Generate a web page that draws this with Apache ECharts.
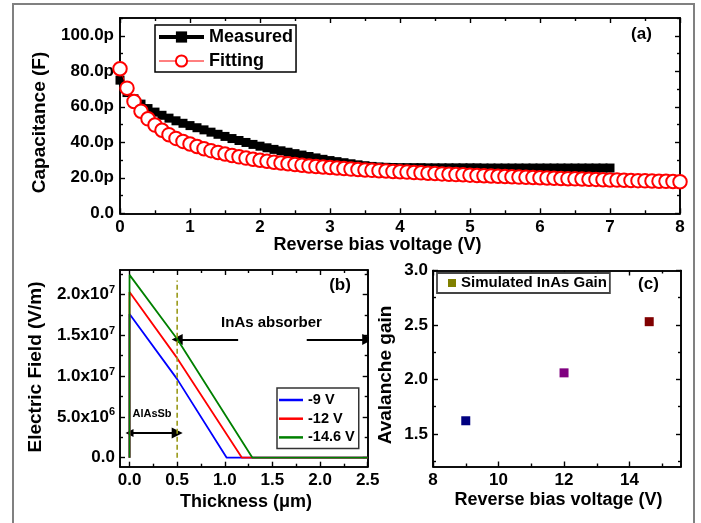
<!DOCTYPE html>
<html><head><meta charset="utf-8">
<script src="https://cdn.jsdelivr.net/npm/echarts@6/dist/echarts.min.js"></script>
<style>html,body{margin:0;padding:0;background:#fff}#c{width:701px;height:523px}</style>
</head><body><div id="c"></div>
<script>
// ---------- Panel (a): capacitance vs reverse bias ----------
const measuredV = [0,0.1,0.2,0.3,0.4,0.5,0.6,0.7,0.8,0.9,1.0,1.1,1.2,1.3,1.4,1.5,1.6,1.7,1.8,1.9,2.0,2.1,2.2,2.3,2.4,2.5,2.6,2.7,2.8,2.9,3.0,3.1,3.2,3.3,3.4,3.5,3.6,3.7,3.8,3.9,4.0,4.1,4.2,4.3,4.4,4.5,4.6,4.7,4.8,4.9,5.0,5.1,5.2,5.3,5.4,5.5,5.6,5.7,5.8,5.9,6.0,6.1,6.2,6.3,6.4,6.5,6.6,6.7,6.8,6.9,7.0];
const measuredC = [75,68,64.5,61.5,59,57,55.2,53.6,52.1,50.7,49.4,48.2,47.0,45.7,44.5,43.3,42.1,41.0,39.9,38.8,37.8,36.9,36.0,35.2,34.4,33.6,32.8,32.0,31.2,30.4,29.7,29.1,28.5,27.9,27.3,26.8,26.4,26.1,25.9,25.8,25.7,25.7,25.7,25.7,25.6,25.6,25.6,25.6,25.6,25.6,25.6,25.6,25.5,25.5,25.5,25.5,25.5,25.5,25.5,25.5,25.5,25.5,25.5,25.5,25.5,25.5,25.5,25.5,25.5,25.5,25.5];
const fittingV = [0,0.1,0.2,0.3,0.4,0.5,0.6,0.7,0.8,0.9,1.0,1.1,1.2,1.3,1.4,1.5,1.6,1.7,1.8,1.9,2.0,2.1,2.2,2.3,2.4,2.5,2.6,2.7,2.8,2.9,3.0,3.1,3.2,3.3,3.4,3.5,3.6,3.7,3.8,3.9,4.0,4.1,4.2,4.3,4.4,4.5,4.6,4.7,4.8,4.9,5.0,5.1,5.2,5.3,5.4,5.5,5.6,5.7,5.8,5.9,6.0,6.1,6.2,6.3,6.4,6.5,6.6,6.7,6.8,6.9,7.0,7.1,7.2,7.3,7.4,7.5,7.6,7.7,7.8,7.9,8.0];
const fittingC = [81.4,70.5,63.0,57.5,53.2,49.7,46.8,44.3,42.2,40.5,39.0,37.6,36.4,35.3,34.3,33.4,32.6,31.8,31.1,30.5,29.9,29.3,28.8,28.3,27.9,27.5,27.1,26.7,26.4,26.1,25.8,25.5,25.2,24.9,24.7,24.4,24.2,24.0,23.8,23.6,23.4,23.2,23.0,22.8,22.6,22.4,22.2,22.0,21.8,21.7,21.5,21.3,21.2,21.0,20.9,20.7,20.6,20.4,20.3,20.2,20.0,19.9,19.8,19.6,19.5,19.4,19.3,19.2,19.1,18.9,18.8,18.7,18.6,18.5,18.4,18.3,18.2,18.1,18.0,17.9,17.8];
const aXTicks = [0,1,2,3,4,5,6,7,8];
const aXMinor = [0.5,1.5,2.5,3.5,4.5,5.5,6.5,7.5];
const aYTicks = [0,20,40,60,80,100];
const aYMinor = [10,30,50,70,90,110];

// ---------- Panel (b): electric field vs thickness ----------
const fieldNames = ['-9 V','-12 V','-14.6 V'];
const fieldX = [
  [0,0,0.5,1.02,2.5],
  [0,0,0.5,1.18,2.5],
  [0,0,0.5,1.29,2.5]
];
const fieldY = [
  [0,1.76e7,0.963e7,0,0],
  [0,2.03e7,1.22e7,0,0],
  [0,2.24e7,1.455e7,0,0]
];
const bXTicks = [0,0.5,1.0,1.5,2.0,2.5];
const bXMinor = [0.25,0.75,1.25,1.75,2.25];
const bYTicks = [0,5e6,1e7,1.5e7,2e7];
const bYMinor = [2.5e6,7.5e6,1.25e7,1.75e7,2.25e7];
const interfaceX = [0.5,0.5];
const interfaceY = [0,2.17e7];
const absorberArrowL = [[1.14,1.45e7],[0.5,1.45e7]];
const absorberArrowR = [[1.86,1.45e7],[2.5,1.45e7]];
const alasArrow = [[0.0,3.03e6],[0.5,3.03e6]];

// ---------- Panel (c): avalanche gain ----------
const gainV = [9,12,14.6];
const gainM = [1.62,2.06,2.53];
const cXTicks = [8,10,12,14];
const cXMinor = [9,11,13,15];
const cYTicks = [1.5,2.0,2.5,3.0];
const cYMinor = [1.25,1.75,2.25,2.75];

// ---------- styles ----------
const FF = '"Liberation Sans", Arial, sans-serif';
const fieldColors = ['#0000ff','#ff0000','#008000'];
const gainColors = ['#000080','#800080','#800000'];

const xAxes = [], yAxes = [];
function addAxes(list, isX, grid, min, max, majors, minors, fmt, margin, rich) {
  const posMain = isX ? 'bottom' : 'left', posOpp = isX ? 'top' : 'right';
  const mk = (pos, ticks, len, withLabel) => ({
    type: 'value', gridIndex: grid, min: min, max: max, position: pos,
    axisLine: {show: true, onZero: false, lineStyle: {color: '#000', width: 1.6}},
    axisTick: {show: true, inside: true, length: len, customValues: ticks, lineStyle: {color: '#000', width: 1.4}},
    axisLabel: withLabel ? {show: true, customValues: ticks, formatter: fmt, margin: margin,
      color: '#000', fontWeight: 'bold', fontSize: 17, fontFamily: FF, rich: rich || {}} : {show: false},
    splitLine: {show: false}, minorTick: {show: false}
  });
  const idx = list.length;
  list.push(mk(posMain, majors, 5, true));
  list.push(mk(posMain, minors, 3, false));
  list.push(mk(posOpp, majors, 5, false));
  list.push(mk(posOpp, minors, 3, false));
  return idx;
}
const supRich = {s: {fontSize: 11, fontWeight: 'bold', fontFamily: FF, color: '#000', padding: [0, 0, 9, 0]}};
const ax = addAxes(xAxes, true, 0, 0, 8, aXTicks, aXMinor, v => String(v), 6);
const ay = addAxes(yAxes, false, 0, 0, 110, aYTicks, aYMinor, v => v === 0 ? '0.0' : v.toFixed(1) + 'p', 6);
const bx = addAxes(xAxes, true, 1, -0.1, 2.5, bXTicks, bXMinor, v => v.toFixed(1), 5);
const by = addAxes(yAxes, false, 1, -1.1e6, 2.3e7, bYTicks, bYMinor, v => {
  if (v === 0) return '0.0';
  const e = Math.floor(Math.log10(v) + 1e-9);
  return (v / Math.pow(10, e)).toFixed(1) + 'x10{s|' + e + '}';
}, 5, supRich);
const cx = addAxes(xAxes, true, 2, 8, 15.57, cXTicks, cXMinor, v => String(v), 5);
const cy = addAxes(yAxes, false, 2, 1.2, 3.0, cYTicks, cYMinor, v => v.toFixed(1), 5);

const zip = (xs, ys) => xs.map((x, i) => [x, ys[i]]);
const series = [];
series.push({name: 'Measured', type: 'line', xAxisIndex: ax, yAxisIndex: ay,
  data: zip(measuredV, measuredC), symbol: 'rect', symbolSize: 9,
  lineStyle: {color: '#000', width: 4}, itemStyle: {color: '#000'}, z: 2});
series.push({name: 'Fitting', type: 'line', xAxisIndex: ax, yAxisIndex: ay,
  data: zip(fittingV, fittingC), symbol: 'emptyCircle', symbolSize: 13.5,
  lineStyle: {color: '#ff0000', width: 1}, itemStyle: {color: '#ff0000', borderWidth: 1}, z: 3});
fieldNames.forEach((n, i) => series.push({name: n, type: 'line', xAxisIndex: bx, yAxisIndex: by,
  data: zip(fieldX[i], fieldY[i]), symbol: 'none', lineStyle: {color: fieldColors[i], width: 1.8},
  itemStyle: {color: fieldColors[i]}}));
series.push({type: 'line', xAxisIndex: bx, yAxisIndex: by, data: zip(interfaceX, interfaceY), symbol: 'none',
  lineStyle: {color: '#9a9a1a', width: 1.6, type: [5, 3]}, silent: true});
series.push({type: 'lines', coordinateSystem: 'cartesian2d', xAxisIndex: bx, yAxisIndex: by,
  data: [{coords: absorberArrowL}, {coords: absorberArrowR}], symbol: ['none', 'triangle'], symbolSize: [8, 11],
  lineStyle: {color: '#000', width: 2, opacity: 1}, itemStyle: {color: '#000'}, silent: true});
series.push({type: 'lines', coordinateSystem: 'cartesian2d', xAxisIndex: bx, yAxisIndex: by,
  data: [{coords: alasArrow}], symbol: ['triangle', 'triangle'], symbolSize: [8, 11],
  lineStyle: {color: '#000', width: 2, opacity: 1}, itemStyle: {color: '#000'}, silent: true});
series.push({name: 'Simulated InAs Gain', type: 'scatter', xAxisIndex: cx, yAxisIndex: cy,
  data: gainV.map((v, i) => ({value: [v, gainM[i]], itemStyle: {color: gainColors[i], opacity: 1}})),
  symbol: 'rect', symbolSize: 9, itemStyle: {color: '#808000', opacity: 1}});

const T = (text, x, y, size, extra) => Object.assign({type: 'text', x: x, y: y, z: 100,
  style: {text: text, font: 'bold ' + size + 'px ' + FF, fill: '#000', textAlign: 'center', textVerticalAlign: 'middle'}}, extra || {});

const option = {
  animation: false,
  backgroundColor: '#fff',
  grid: [
    {left: 120, top: 18, width: 560, height: 195.3},
    {left: 120, top: 270, width: 247.7, height: 196.7},
    {left: 433, top: 270.5, width: 248, height: 196}
  ],
  xAxis: xAxes, yAxis: yAxes, series: series,
  legend: [
    {data: [{name: 'Measured', lineStyle: {width: 4}}, {name: 'Fitting', lineStyle: {width: 1}}],
     orient: 'vertical', left: 155, top: 25, itemWidth: 45, itemHeight: 14,
     itemGap: 4, padding: [2, 3, 1, 2], borderColor: '#000', borderWidth: 1.5, backgroundColor: '#fff',
     textStyle: {fontWeight: 'bold', fontSize: 18, fontFamily: FF, color: '#000', lineHeight: 20}},
    {data: fieldNames, icon: 'rect', orient: 'vertical', left: 277, top: 388, itemWidth: 24, itemHeight: 2.5,
     itemGap: 2.7, padding: [4, 4, 3, 2], borderColor: '#333', borderWidth: 1.5, backgroundColor: '#fff',
     textStyle: {fontWeight: 'bold', fontSize: 14.5, fontFamily: FF, color: '#000', lineHeight: 16}},
    {data: ['Simulated InAs Gain'], orient: 'vertical', left: 437, top: 273, itemWidth: 8, itemHeight: 8,
     padding: [2, 3, 2, 11], borderColor: '#444', borderWidth: 1.8, backgroundColor: '#fff',
     textStyle: {fontWeight: 'bold', fontSize: 15, fontFamily: FF, color: '#000', lineHeight: 16}}
  ],
  graphic: [
    {type: 'rect', shape: {x: 13, y: 4, width: 681, height: 540}, style: {fill: 'none', stroke: '#808080', lineWidth: 2}, z: 0, silent: true},
    T('Reverse bias voltage (V)', 377.5, 245, 18),
    T('Capacitance (F)', 40, 122.5, 19, {rotation: Math.PI / 2}),
    T('(a)', 641.5, 34, 17),
    T('Electric Field (V/m)', 36, 367, 19, {rotation: Math.PI / 2}),
    T('Thickness (\u03bcm)', 246, 502, 18),
    T('(b)', 340, 285.5, 17),
    T('InAs absorber', 271.5, 323, 15),
    T('AlAsSb', 152, 413.5, 11),
    T('Avalanche gain', 386, 375, 19, {rotation: Math.PI / 2}),
    T('Reverse bias voltage (V)', 558.5, 500, 18),
    T('(c)', 648.5, 284.5, 17)
  ]
};
const chart = echarts.init(document.getElementById('c'), null, {renderer: 'canvas'});
chart.setOption(option);
</script></body></html>
